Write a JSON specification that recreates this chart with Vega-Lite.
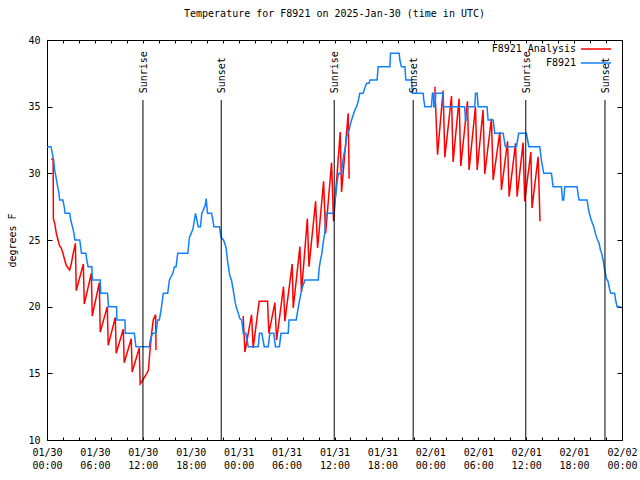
{
  "$schema": "https://vega.github.io/schema/vega-lite/v6.json",
  "width": 575,
  "height": 400,
  "autosize": {"type": "none"},
  "padding": {"left": 47, "top": 40, "right": 18, "bottom": 40},
  "background": "white",
  "config": {
    "font": "DejaVu Sans Mono",
    "view": {"stroke": "black", "strokeWidth": 1},
    "axis": {"grid": false, "domain": false, "labelFont": "DejaVu Sans Mono", "labelFontSize": 10, "labelColor": "black", "tickColor": "black", "titleFont": "DejaVu Sans Mono", "titleFontSize": 10, "titleFontWeight": "normal", "titleColor": "black"},
    "legend": {"labelFont": "DejaVu Sans Mono", "labelFontSize": 10, "labelColor": "black"}
  },
  "title": {"text": "Temperature for F8921 on 2025-Jan-30 (time in UTC)", "font": "DejaVu Sans Mono", "fontSize": 10, "fontWeight": "normal", "color": "black", "offset": 16, "anchor": "middle", "frame": "group"},
  "datasets": {
    "ana": [
      {"t":"2025-01-30T00:32:00Z","v":31.1,"seg":1,"series":"F8921 Analysis"},
      {"t":"2025-01-30T00:46:00Z","v":31.0,"seg":1,"series":"F8921 Analysis"},
      {"t":"2025-01-30T00:48:00Z","v":26.6,"seg":1,"series":"F8921 Analysis"},
      {"t":"2025-01-30T00:58:00Z","v":26.25,"seg":1,"series":"F8921 Analysis"},
      {"t":"2025-01-30T01:10:00Z","v":25.5,"seg":1,"series":"F8921 Analysis"},
      {"t":"2025-01-30T01:23:00Z","v":25.0,"seg":1,"series":"F8921 Analysis"},
      {"t":"2025-01-30T01:35:00Z","v":24.55,"seg":1,"series":"F8921 Analysis"},
      {"t":"2025-01-30T01:47:00Z","v":24.4,"seg":1,"series":"F8921 Analysis"},
      {"t":"2025-01-30T02:00:00Z","v":24.0,"seg":1,"series":"F8921 Analysis"},
      {"t":"2025-01-30T02:13:00Z","v":23.5,"seg":1,"series":"F8921 Analysis"},
      {"t":"2025-01-30T02:25:00Z","v":23.1,"seg":1,"series":"F8921 Analysis"},
      {"t":"2025-01-30T02:38:00Z","v":22.9,"seg":1,"series":"F8921 Analysis"},
      {"t":"2025-01-30T02:50:00Z","v":22.75,"seg":1,"series":"F8921 Analysis"},
      {"t":"2025-01-30T03:03:00Z","v":23.25,"seg":1,"series":"F8921 Analysis"},
      {"t":"2025-01-30T03:15:00Z","v":23.9,"seg":1,"series":"F8921 Analysis"},
      {"t":"2025-01-30T03:28:00Z","v":24.5,"seg":1,"series":"F8921 Analysis"},
      {"t":"2025-01-30T03:33:00Z","v":24.75,"seg":1,"series":"F8921 Analysis"},
      {"t":"2025-01-30T03:40:00Z","v":21.2,"seg":1,"series":"F8921 Analysis"},
      {"t":"2025-01-30T04:33:00Z","v":23.2,"seg":1,"series":"F8921 Analysis"},
      {"t":"2025-01-30T04:40:00Z","v":20.2,"seg":1,"series":"F8921 Analysis"},
      {"t":"2025-01-30T05:33:00Z","v":22.5,"seg":1,"series":"F8921 Analysis"},
      {"t":"2025-01-30T05:40:00Z","v":19.3,"seg":1,"series":"F8921 Analysis"},
      {"t":"2025-01-30T06:33:00Z","v":21.8,"seg":1,"series":"F8921 Analysis"},
      {"t":"2025-01-30T06:40:00Z","v":18.1,"seg":1,"series":"F8921 Analysis"},
      {"t":"2025-01-30T07:33:00Z","v":20.0,"seg":1,"series":"F8921 Analysis"},
      {"t":"2025-01-30T07:40:00Z","v":17.1,"seg":1,"series":"F8921 Analysis"},
      {"t":"2025-01-30T08:33:00Z","v":19.2,"seg":1,"series":"F8921 Analysis"},
      {"t":"2025-01-30T08:40:00Z","v":16.5,"seg":1,"series":"F8921 Analysis"},
      {"t":"2025-01-30T09:33:00Z","v":18.3,"seg":1,"series":"F8921 Analysis"},
      {"t":"2025-01-30T09:40:00Z","v":15.8,"seg":1,"series":"F8921 Analysis"},
      {"t":"2025-01-30T10:33:00Z","v":17.6,"seg":1,"series":"F8921 Analysis"},
      {"t":"2025-01-30T10:40:00Z","v":15.1,"seg":1,"series":"F8921 Analysis"},
      {"t":"2025-01-30T11:33:00Z","v":16.9,"seg":1,"series":"F8921 Analysis"},
      {"t":"2025-01-30T11:40:00Z","v":14.2,"seg":1,"series":"F8921 Analysis"},
      {"t":"2025-01-30T11:54:00Z","v":14.4,"seg":1,"series":"F8921 Analysis"},
      {"t":"2025-01-30T12:06:00Z","v":14.6,"seg":1,"series":"F8921 Analysis"},
      {"t":"2025-01-30T12:30:00Z","v":15.0,"seg":1,"series":"F8921 Analysis"},
      {"t":"2025-01-30T12:42:00Z","v":15.25,"seg":1,"series":"F8921 Analysis"},
      {"t":"2025-01-30T12:54:00Z","v":16.75,"seg":1,"series":"F8921 Analysis"},
      {"t":"2025-01-30T13:06:00Z","v":18.0,"seg":1,"series":"F8921 Analysis"},
      {"t":"2025-01-30T13:18:00Z","v":19.0,"seg":1,"series":"F8921 Analysis"},
      {"t":"2025-01-30T13:36:00Z","v":19.4,"seg":1,"series":"F8921 Analysis"},
      {"t":"2025-01-30T13:39:00Z","v":16.75,"seg":1,"series":"F8921 Analysis"},
      {"t":"2025-01-31T00:34:00Z","v":19.3,"seg":2,"series":"F8921 Analysis"},
      {"t":"2025-01-31T00:47:00Z","v":16.6,"seg":2,"series":"F8921 Analysis"},
      {"t":"2025-01-31T01:37:00Z","v":19.4,"seg":2,"series":"F8921 Analysis"},
      {"t":"2025-01-31T01:49:00Z","v":16.9,"seg":2,"series":"F8921 Analysis"},
      {"t":"2025-01-31T02:34:00Z","v":20.4,"seg":2,"series":"F8921 Analysis"},
      {"t":"2025-01-31T03:37:00Z","v":20.4,"seg":2,"series":"F8921 Analysis"},
      {"t":"2025-01-31T03:47:00Z","v":18.0,"seg":2,"series":"F8921 Analysis"},
      {"t":"2025-01-31T04:32:00Z","v":20.3,"seg":2,"series":"F8921 Analysis"},
      {"t":"2025-01-31T04:45:00Z","v":17.5,"seg":2,"series":"F8921 Analysis"},
      {"t":"2025-01-31T05:37:00Z","v":21.5,"seg":2,"series":"F8921 Analysis"},
      {"t":"2025-01-31T05:47:00Z","v":18.9,"seg":2,"series":"F8921 Analysis"},
      {"t":"2025-01-31T06:42:00Z","v":23.2,"seg":2,"series":"F8921 Analysis"},
      {"t":"2025-01-31T06:50:00Z","v":19.9,"seg":2,"series":"F8921 Analysis"},
      {"t":"2025-01-31T07:40:00Z","v":24.5,"seg":2,"series":"F8921 Analysis"},
      {"t":"2025-01-31T07:52:00Z","v":21.1,"seg":2,"series":"F8921 Analysis"},
      {"t":"2025-01-31T08:36:00Z","v":26.6,"seg":2,"series":"F8921 Analysis"},
      {"t":"2025-01-31T08:48:00Z","v":23.0,"seg":2,"series":"F8921 Analysis"},
      {"t":"2025-01-31T09:38:00Z","v":27.9,"seg":2,"series":"F8921 Analysis"},
      {"t":"2025-01-31T09:53:00Z","v":24.4,"seg":2,"series":"F8921 Analysis"},
      {"t":"2025-01-31T10:38:00Z","v":29.4,"seg":2,"series":"F8921 Analysis"},
      {"t":"2025-01-31T10:53:00Z","v":25.5,"seg":2,"series":"F8921 Analysis"},
      {"t":"2025-01-31T11:38:00Z","v":30.8,"seg":2,"series":"F8921 Analysis"},
      {"t":"2025-01-31T11:53:00Z","v":26.4,"seg":2,"series":"F8921 Analysis"},
      {"t":"2025-01-31T12:43:00Z","v":33.1,"seg":2,"series":"F8921 Analysis"},
      {"t":"2025-01-31T12:53:00Z","v":28.6,"seg":2,"series":"F8921 Analysis"},
      {"t":"2025-01-31T13:43:00Z","v":34.5,"seg":2,"series":"F8921 Analysis"},
      {"t":"2025-01-31T13:50:00Z","v":29.6,"seg":2,"series":"F8921 Analysis"},
      {"t":"2025-02-01T00:34:00Z","v":36.5,"seg":3,"series":"F8921 Analysis"},
      {"t":"2025-02-01T00:54:00Z","v":31.4,"seg":3,"series":"F8921 Analysis"},
      {"t":"2025-02-01T01:36:00Z","v":36.2,"seg":3,"series":"F8921 Analysis"},
      {"t":"2025-02-01T01:49:00Z","v":31.2,"seg":3,"series":"F8921 Analysis"},
      {"t":"2025-02-01T02:39:00Z","v":35.8,"seg":3,"series":"F8921 Analysis"},
      {"t":"2025-02-01T02:51:00Z","v":30.85,"seg":3,"series":"F8921 Analysis"},
      {"t":"2025-02-01T03:36:00Z","v":35.6,"seg":3,"series":"F8921 Analysis"},
      {"t":"2025-02-01T03:49:00Z","v":30.55,"seg":3,"series":"F8921 Analysis"},
      {"t":"2025-02-01T04:39:00Z","v":35.4,"seg":3,"series":"F8921 Analysis"},
      {"t":"2025-02-01T04:51:00Z","v":30.25,"seg":3,"series":"F8921 Analysis"},
      {"t":"2025-02-01T05:39:00Z","v":35.0,"seg":3,"series":"F8921 Analysis"},
      {"t":"2025-02-01T05:52:00Z","v":30.25,"seg":3,"series":"F8921 Analysis"},
      {"t":"2025-02-01T06:36:00Z","v":34.75,"seg":3,"series":"F8921 Analysis"},
      {"t":"2025-02-01T06:49:00Z","v":29.95,"seg":3,"series":"F8921 Analysis"},
      {"t":"2025-02-01T07:39:00Z","v":34.1,"seg":3,"series":"F8921 Analysis"},
      {"t":"2025-02-01T07:52:00Z","v":29.5,"seg":3,"series":"F8921 Analysis"},
      {"t":"2025-02-01T08:42:00Z","v":33.1,"seg":3,"series":"F8921 Analysis"},
      {"t":"2025-02-01T08:54:00Z","v":28.75,"seg":3,"series":"F8921 Analysis"},
      {"t":"2025-02-01T09:40:00Z","v":32.4,"seg":3,"series":"F8921 Analysis"},
      {"t":"2025-02-01T09:52:00Z","v":28.25,"seg":3,"series":"F8921 Analysis"},
      {"t":"2025-02-01T10:40:00Z","v":32.25,"seg":3,"series":"F8921 Analysis"},
      {"t":"2025-02-01T10:52:00Z","v":28.25,"seg":3,"series":"F8921 Analysis"},
      {"t":"2025-02-01T11:37:00Z","v":32.3,"seg":3,"series":"F8921 Analysis"},
      {"t":"2025-02-01T11:49:00Z","v":27.9,"seg":3,"series":"F8921 Analysis"},
      {"t":"2025-02-01T12:35:00Z","v":31.6,"seg":3,"series":"F8921 Analysis"},
      {"t":"2025-02-01T12:44:00Z","v":27.4,"seg":3,"series":"F8921 Analysis"},
      {"t":"2025-02-01T13:30:00Z","v":31.25,"seg":3,"series":"F8921 Analysis"},
      {"t":"2025-02-01T13:44:00Z","v":26.4,"seg":3,"series":"F8921 Analysis"}
    ],
    "obs": [
      {"t":"2025-01-30T00:00:00Z","v":32},{"t":"2025-01-30T00:30:00Z","v":32},{"t":"2025-01-30T00:50:00Z","v":31},
      {"t":"2025-01-30T00:58:00Z","v":30.2},{"t":"2025-01-30T01:10:00Z","v":29.6},{"t":"2025-01-30T01:20:00Z","v":29},
      {"t":"2025-01-30T01:30:00Z","v":28.5},{"t":"2025-01-30T01:35:00Z","v":28},{"t":"2025-01-30T02:00:00Z","v":28},
      {"t":"2025-01-30T02:11:00Z","v":27.4},{"t":"2025-01-30T02:16:00Z","v":27},{"t":"2025-01-30T02:51:00Z","v":27},
      {"t":"2025-01-30T02:58:00Z","v":26.5},{"t":"2025-01-30T03:11:00Z","v":26},{"t":"2025-01-30T03:23:00Z","v":25.5},
      {"t":"2025-01-30T03:29:00Z","v":25},{"t":"2025-01-30T04:06:00Z","v":25},{"t":"2025-01-30T04:19:00Z","v":24},
      {"t":"2025-01-30T04:52:00Z","v":24},{"t":"2025-01-30T04:59:00Z","v":23.5},{"t":"2025-01-30T05:09:00Z","v":23},
      {"t":"2025-01-30T05:37:00Z","v":23},{"t":"2025-01-30T05:41:00Z","v":22},{"t":"2025-01-30T06:40:00Z","v":22},
      {"t":"2025-01-30T06:44:00Z","v":21},{"t":"2025-01-30T07:35:00Z","v":21},{"t":"2025-01-30T07:42:00Z","v":20},
      {"t":"2025-01-30T08:43:00Z","v":20},{"t":"2025-01-30T08:45:00Z","v":19},{"t":"2025-01-30T09:46:00Z","v":19},
      {"t":"2025-01-30T09:48:00Z","v":18},{"t":"2025-01-30T10:56:00Z","v":18},{"t":"2025-01-30T11:08:00Z","v":17},
      {"t":"2025-01-30T12:49:00Z","v":17},{"t":"2025-01-30T12:56:00Z","v":17.5},{"t":"2025-01-30T13:14:00Z","v":18},
      {"t":"2025-01-30T13:39:00Z","v":18},{"t":"2025-01-30T13:52:00Z","v":19},{"t":"2025-01-30T14:04:00Z","v":19},
      {"t":"2025-01-30T14:17:00Z","v":19.75},{"t":"2025-01-30T14:34:00Z","v":21},{"t":"2025-01-30T15:07:00Z","v":21},
      {"t":"2025-01-30T15:20:00Z","v":22},{"t":"2025-01-30T15:45:00Z","v":22.5},{"t":"2025-01-30T15:58:00Z","v":23},
      {"t":"2025-01-30T16:10:00Z","v":23},{"t":"2025-01-30T16:22:00Z","v":24},{"t":"2025-01-30T17:38:00Z","v":24},
      {"t":"2025-01-30T17:50:00Z","v":25.2},{"t":"2025-01-30T18:16:00Z","v":25.8},{"t":"2025-01-30T18:36:00Z","v":27},
      {"t":"2025-01-30T18:46:00Z","v":26.5},{"t":"2025-01-30T18:56:00Z","v":26},{"t":"2025-01-30T19:13:00Z","v":26},
      {"t":"2025-01-30T19:23:00Z","v":27},{"t":"2025-01-30T19:49:00Z","v":27.6},{"t":"2025-01-30T19:56:00Z","v":28.1},
      {"t":"2025-01-30T20:06:00Z","v":27},{"t":"2025-01-30T20:36:00Z","v":27},{"t":"2025-01-30T20:46:00Z","v":26.5},
      {"t":"2025-01-30T20:54:00Z","v":26},{"t":"2025-01-30T21:36:00Z","v":26},{"t":"2025-01-30T21:48:00Z","v":25.2},
      {"t":"2025-01-30T22:06:00Z","v":25},{"t":"2025-01-30T22:24:00Z","v":24.5},{"t":"2025-01-30T22:37:00Z","v":23.4},
      {"t":"2025-01-30T22:54:00Z","v":22.3},{"t":"2025-01-30T23:06:00Z","v":22},{"t":"2025-01-30T23:19:00Z","v":21.25},
      {"t":"2025-01-30T23:34:00Z","v":20.3},{"t":"2025-01-30T23:44:00Z","v":19.9},{"t":"2025-01-30T23:57:00Z","v":19.5},
      {"t":"2025-01-31T00:09:00Z","v":19.1},{"t":"2025-01-31T00:22:00Z","v":19},{"t":"2025-01-31T00:29:00Z","v":18.5},
      {"t":"2025-01-31T00:34:00Z","v":18},{"t":"2025-01-31T00:54:00Z","v":18},{"t":"2025-01-31T01:03:00Z","v":17.5},
      {"t":"2025-01-31T01:12:00Z","v":17},{"t":"2025-01-31T02:27:00Z","v":17},{"t":"2025-01-31T02:36:00Z","v":18},
      {"t":"2025-01-31T02:54:00Z","v":18},{"t":"2025-01-31T03:12:00Z","v":17},{"t":"2025-01-31T03:42:00Z","v":17},
      {"t":"2025-01-31T03:54:00Z","v":18},{"t":"2025-01-31T04:24:00Z","v":18},{"t":"2025-01-31T04:36:00Z","v":17},
      {"t":"2025-01-31T05:06:00Z","v":17},{"t":"2025-01-31T05:18:00Z","v":18},{"t":"2025-01-31T06:12:00Z","v":18},
      {"t":"2025-01-31T06:18:00Z","v":19},{"t":"2025-01-31T07:12:00Z","v":19},{"t":"2025-01-31T07:36:00Z","v":20.4},
      {"t":"2025-01-31T07:54:00Z","v":21.3},{"t":"2025-01-31T08:18:00Z","v":22},{"t":"2025-01-31T09:58:00Z","v":22},
      {"t":"2025-01-31T10:05:00Z","v":22.9},{"t":"2025-01-31T10:15:00Z","v":23.5},{"t":"2025-01-31T10:25:00Z","v":24},
      {"t":"2025-01-31T10:35:00Z","v":24.8},{"t":"2025-01-31T10:48:00Z","v":25.6},{"t":"2025-01-31T10:55:00Z","v":27},
      {"t":"2025-01-31T11:50:00Z","v":27},{"t":"2025-01-31T11:58:00Z","v":27.6},{"t":"2025-01-31T12:08:00Z","v":28.25},
      {"t":"2025-01-31T12:16:00Z","v":29},{"t":"2025-01-31T12:23:00Z","v":29.6},{"t":"2025-01-31T12:33:00Z","v":30},
      {"t":"2025-01-31T12:53:00Z","v":30},{"t":"2025-01-31T13:00:00Z","v":30.75},{"t":"2025-01-31T13:10:00Z","v":31.4},
      {"t":"2025-01-31T13:23:00Z","v":32},{"t":"2025-01-31T13:31:00Z","v":32.75},{"t":"2025-01-31T13:50:00Z","v":33.25},
      {"t":"2025-01-31T14:01:00Z","v":33.75},{"t":"2025-01-31T14:16:00Z","v":34.25},{"t":"2025-01-31T14:33:00Z","v":34.75},
      {"t":"2025-01-31T14:46:00Z","v":35},{"t":"2025-01-31T14:58:00Z","v":35.4},{"t":"2025-01-31T15:10:00Z","v":36},
      {"t":"2025-01-31T15:35:00Z","v":36},{"t":"2025-01-31T15:48:00Z","v":36.4},{"t":"2025-01-31T16:01:00Z","v":36.75},
      {"t":"2025-01-31T16:20:00Z","v":36.75},{"t":"2025-01-31T16:26:00Z","v":37},{"t":"2025-01-31T17:20:00Z","v":37},
      {"t":"2025-01-31T17:28:00Z","v":38},{"t":"2025-01-31T18:56:00Z","v":38},{"t":"2025-01-31T19:01:00Z","v":39},
      {"t":"2025-01-31T20:06:00Z","v":39},{"t":"2025-01-31T20:11:00Z","v":38.5},{"t":"2025-01-31T20:23:00Z","v":38},
      {"t":"2025-01-31T20:49:00Z","v":38},{"t":"2025-01-31T20:56:00Z","v":37},{"t":"2025-01-31T21:38:00Z","v":37},
      {"t":"2025-01-31T21:46:00Z","v":36},{"t":"2025-01-31T23:06:00Z","v":36},{"t":"2025-01-31T23:11:00Z","v":35.5},
      {"t":"2025-01-31T23:19:00Z","v":35},{"t":"2025-02-01T00:08:00Z","v":35},{"t":"2025-02-01T00:16:00Z","v":36},
      {"t":"2025-02-01T00:24:00Z","v":36},{"t":"2025-02-01T00:26:00Z","v":35},{"t":"2025-02-01T00:34:00Z","v":35},
      {"t":"2025-02-01T00:41:00Z","v":36},{"t":"2025-02-01T01:33:00Z","v":36},{"t":"2025-02-01T01:39:00Z","v":35},
      {"t":"2025-02-01T04:18:00Z","v":35},{"t":"2025-02-01T04:24:00Z","v":34},{"t":"2025-02-01T04:36:00Z","v":34},
      {"t":"2025-02-01T04:42:00Z","v":35},{"t":"2025-02-01T05:34:00Z","v":35},{"t":"2025-02-01T05:39:00Z","v":36},
      {"t":"2025-02-01T05:52:00Z","v":36},{"t":"2025-02-01T05:59:00Z","v":35},{"t":"2025-02-01T07:06:00Z","v":35},
      {"t":"2025-02-01T07:14:00Z","v":34},{"t":"2025-02-01T07:52:00Z","v":34},{"t":"2025-02-01T08:04:00Z","v":33},
      {"t":"2025-02-01T09:07:00Z","v":33},{"t":"2025-02-01T09:24:00Z","v":32},{"t":"2025-02-01T10:47:00Z","v":32},
      {"t":"2025-02-01T11:04:00Z","v":33},{"t":"2025-02-01T12:02:00Z","v":33},{"t":"2025-02-01T12:20:00Z","v":32},
      {"t":"2025-02-01T13:42:00Z","v":32},{"t":"2025-02-01T13:54:00Z","v":31},{"t":"2025-02-01T14:12:00Z","v":30},
      {"t":"2025-02-01T15:10:00Z","v":30},{"t":"2025-02-01T15:22:00Z","v":29},{"t":"2025-02-01T16:25:00Z","v":29},
      {"t":"2025-02-01T16:33:00Z","v":28},{"t":"2025-02-01T16:42:00Z","v":28},{"t":"2025-02-01T16:50:00Z","v":29},
      {"t":"2025-02-01T18:22:00Z","v":29},{"t":"2025-02-01T18:37:00Z","v":28},{"t":"2025-02-01T19:37:00Z","v":28},
      {"t":"2025-02-01T19:52:00Z","v":27.1},{"t":"2025-02-01T20:06:00Z","v":26.6},{"t":"2025-02-01T20:18:00Z","v":26.25},
      {"t":"2025-02-01T20:28:00Z","v":26},{"t":"2025-02-01T20:43:00Z","v":25.4},{"t":"2025-02-01T20:54:00Z","v":25.05},
      {"t":"2025-02-01T21:08:00Z","v":24.75},{"t":"2025-02-01T21:18:00Z","v":24.25},{"t":"2025-02-01T21:27:00Z","v":24},
      {"t":"2025-02-01T21:38:00Z","v":23.5},{"t":"2025-02-01T21:50:00Z","v":22.75},{"t":"2025-02-01T22:03:00Z","v":22.1},
      {"t":"2025-02-01T22:15:00Z","v":21.9},{"t":"2025-02-01T22:28:00Z","v":21.25},{"t":"2025-02-01T22:36:00Z","v":21},
      {"t":"2025-02-01T23:05:00Z","v":21},{"t":"2025-02-01T23:12:00Z","v":20.5},{"t":"2025-02-01T23:23:00Z","v":20},
      {"t":"2025-02-01T23:50:00Z","v":20}
    ],
    "sun": [
      {"t":"2025-01-30T12:01:00Z","event":"Sunrise"},
      {"t":"2025-01-30T21:49:00Z","event":"Sunset"},
      {"t":"2025-01-31T11:58:00Z","event":"Sunrise"},
      {"t":"2025-01-31T21:51:00Z","event":"Sunset"},
      {"t":"2025-02-01T11:57:00Z","event":"Sunrise"},
      {"t":"2025-02-01T21:52:00Z","event":"Sunset"}
    ]
  },
  "layer": [
    {
      "data": {"name": "ana"},
      "mark": {"type": "line", "strokeWidth": 1.5},
      "encoding": {
        "x": {"field": "t", "type": "temporal",
          "scale": {"type": "utc", "domain": [1738195200000, 1738454400000], "nice": false},
          "axis": {"orient": "bottom", "title": null,
            "values": [1738195200000,1738202400000,1738209600000,1738216800000,1738224000000,1738231200000,1738238400000,1738245600000,1738252800000,1738260000000,1738267200000,1738274400000,1738281600000,1738288800000,1738296000000,1738303200000,1738310400000,1738317600000,1738324800000,1738332000000,1738339200000,1738346400000,1738353600000,1738360800000,1738368000000,1738375200000,1738382400000,1738389600000,1738396800000,1738404000000,1738411200000,1738418400000,1738425600000,1738432800000,1738440000000,1738447200000,1738454400000],
            "labelExpr": "utchours(datum.value) % 6 == 0 ? [utcFormat(datum.value, '%m/%d'), utcFormat(datum.value, '%H:%M')] : ''",
            "tickSize": -3,
            "labelPadding": 10, "labelFlush": false, "labelOverlap": false, "labelLineHeight": 13}},
        "y": {"field": "v", "type": "quantitative",
          "scale": {"domain": [10, 40], "nice": false, "zero": false},
          "axis": {"orient": "left", "title": "degrees F", "values": [10, 15, 20, 25, 30, 35, 40], "tickSize": -5, "labelPadding": 12, "titlePadding": 10, "labelFlush": false}},
        "color": {"field": "series", "type": "nominal",
          "scale": {"domain": ["F8921 Analysis", "F8921"], "range": ["#ff0000", "#1080ff"]},
          "legend": {"title": null, "orient": "none", "legendX": 543, "legendY": 3, "padding": 0, "symbolType": "M-3,0H3", "symbolSize": 100, "symbolStrokeWidth": 1.5, "labelAlign": "right", "labelOffset": -26, "rowPadding": 3}},
        "detail": {"field": "seg"}
      }
    },
    {
      "data": {"name": "obs"},
      "mark": {"type": "line", "strokeWidth": 1.5, "color": "#1080ff"},
      "encoding": {
        "x": {"field": "t", "type": "temporal",
          "axis": {"orient": "top", "title": null, "labels": false, "tickSize": -3,
            "values": [1738195200000,1738202400000,1738209600000,1738216800000,1738224000000,1738231200000,1738238400000,1738245600000,1738252800000,1738260000000,1738267200000,1738274400000,1738281600000,1738288800000,1738296000000,1738303200000,1738310400000,1738317600000,1738324800000,1738332000000,1738339200000,1738346400000,1738353600000,1738360800000,1738368000000,1738375200000,1738382400000,1738389600000,1738396800000,1738404000000,1738411200000,1738418400000,1738425600000,1738432800000,1738440000000,1738447200000,1738454400000]}},
        "y": {"field": "v", "type": "quantitative",
          "axis": {"orient": "right", "title": null, "labels": false, "values": [10, 15, 20, 25, 30, 35, 40], "tickSize": -5}}
      }
    },
    {
      "data": {"name": "sun"},
      "mark": {"type": "rule", "color": "black", "strokeWidth": 1},
      "encoding": {
        "x": {"field": "t", "type": "temporal", "axis": null},
        "y": {"datum": 10, "type": "quantitative", "axis": null},
        "y2": {"datum": 35.5}
      }
    },
    {
      "data": {"name": "sun"},
      "mark": {"type": "text", "angle": 270, "align": "left", "baseline": "middle", "fontSize": 10, "font": "DejaVu Sans Mono", "color": "black", "dy": 1},
      "encoding": {
        "x": {"field": "t", "type": "temporal", "axis": null},
        "y": {"datum": 36, "type": "quantitative", "axis": null},
        "text": {"field": "event"}
      }
    }
  ],
  "resolve": {"axis": {"x": "independent", "y": "independent"}}
}
